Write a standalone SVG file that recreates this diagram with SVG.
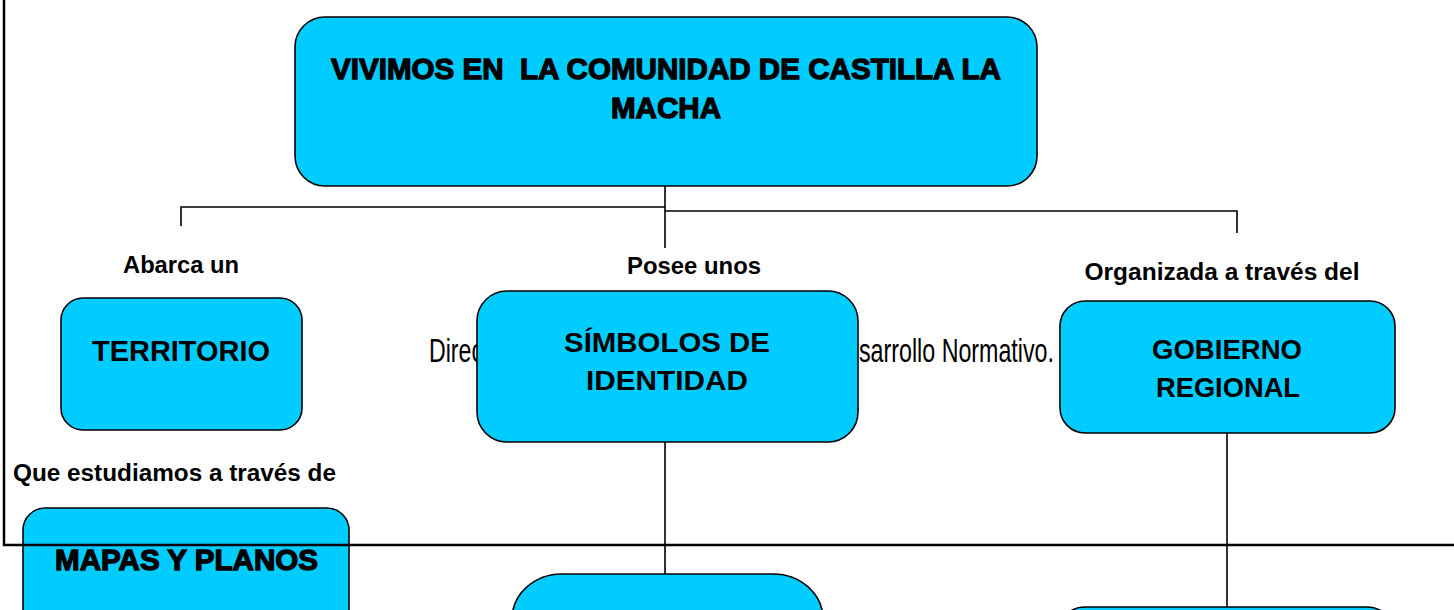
<svg xmlns="http://www.w3.org/2000/svg" width="1454" height="610" viewBox="0 0 1454 610">
<style>
.box{fill:#00CCFF;stroke:#000;stroke-width:1.6}
.t{font-family:"Liberation Sans",Arial,sans-serif;font-weight:bold;fill:#000;text-anchor:middle}
.h{stroke:#000;stroke-width:1.3}
.lbl{font-family:"Liberation Sans",Arial,sans-serif;font-weight:bold;font-size:23px;fill:#000}
.bg{font-family:"Liberation Sans",Arial,sans-serif;font-size:33px;fill:#000}
.c{fill:none;stroke:#000;stroke-width:1.6}
</style>
<rect width="1454" height="610" fill="#fff"/>
<g id="background-text">
<text class="bg" x="429" y="362" textLength="54" lengthAdjust="spacingAndGlyphs">Direc</text>
<text class="bg" x="859" y="362" textLength="195" lengthAdjust="spacingAndGlyphs">sarrollo Normativo.</text>
</g>
<g id="connectors">
<path class="c" d="M665,186 V248"/>
<path class="c" d="M665,207 H181 V226"/>
<path class="c" d="M665,211 H1237 V233"/>
<path class="c" d="M665,442 V574"/>
<path class="c" d="M1227,433 V607"/>
</g>
<g id="labels">
<text class="lbl" x="181" y="273" text-anchor="middle" textLength="116" lengthAdjust="spacingAndGlyphs">Abarca un</text>
<text class="lbl" x="694" y="274" text-anchor="middle" textLength="134" lengthAdjust="spacingAndGlyphs">Posee unos</text>
<text class="lbl" x="1222" y="280" text-anchor="middle" textLength="275" lengthAdjust="spacingAndGlyphs">Organizada a través del</text>
<text class="lbl" x="13" y="481" textLength="323" lengthAdjust="spacingAndGlyphs">Que estudiamos a través de</text>
</g>
<g id="node-title">
<rect class="box" x="295" y="17" width="742" height="169" rx="30"/>
<text class="t h" x="666" y="79" font-size="30" textLength="670" lengthAdjust="spacingAndGlyphs" xml:space="preserve" style="white-space:pre">VIVIMOS EN  LA COMUNIDAD DE CASTILLA LA</text>
<text class="t h" x="666" y="118" font-size="30" textLength="110" lengthAdjust="spacingAndGlyphs">MACHA</text>
</g>
<g id="node-territorio">
<rect class="box" x="61" y="298" width="241" height="132" rx="22"/>
<text class="t" x="181" y="361" font-size="29" textLength="178" lengthAdjust="spacingAndGlyphs">TERRITORIO</text>
</g>
<g id="node-simbolos">
<rect class="box" x="477" y="291" width="381" height="151" rx="30"/>
<text class="t" x="667" y="352" font-size="28" textLength="206" lengthAdjust="spacingAndGlyphs">SÍMBOLOS DE</text>
<text class="t" x="667" y="390" font-size="28" textLength="162" lengthAdjust="spacingAndGlyphs">IDENTIDAD</text>
</g>
<g id="node-gobierno">
<rect class="box" x="1060" y="301" width="335" height="132" rx="25"/>
<text class="t" x="1227" y="359" font-size="28" textLength="150" lengthAdjust="spacingAndGlyphs">GOBIERNO</text>
<text class="t" x="1228" y="397" font-size="28" textLength="144" lengthAdjust="spacingAndGlyphs">REGIONAL</text>
</g>
<g id="node-mapas">
<rect class="box" x="23" y="508" width="326" height="150" rx="22"/>
<text class="t h" x="186.5" y="570" font-size="29" textLength="263" lengthAdjust="spacingAndGlyphs">MAPAS Y PLANOS</text>
</g>
<g id="node-bottom-middle">
<rect class="box" x="512" y="574" width="311" height="120" rx="50" ry="45"/>
</g>
<g id="node-bottom-right">
<rect class="box" x="1057" y="607" width="338" height="80" rx="28"/>
</g>
<g id="frame">
<path d="M4,0 V545 H1454" fill="none" stroke="#000" stroke-width="2.5"/>
</g>
</svg>
